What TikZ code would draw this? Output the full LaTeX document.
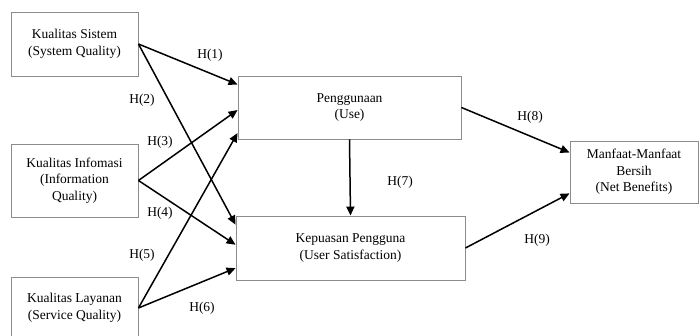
\documentclass[tikz,border=0pt]{standalone}
\usepackage{fontspec}
\setmainfont{Liberation Serif}
\usetikzlibrary{calc,arrows.meta}
\begin{document}
\begin{tikzpicture}[x=1pt, y=1pt]
  \tikzstyle{varbox}=[draw=black!45, line width=0.9pt, fill=white, inner sep=0pt,
    align=center, font=\fontsize{13.5}{16.5}\selectfont]
  \tikzstyle{hyp}=[-{Triangle[length=9pt,width=8pt]}, line width=1.5pt]
  \tikzstyle{hlabel}=[font=\fontsize{13.5}{16.5}\selectfont]
  \useasboundingbox (0, 0) rectangle (699, 336);
  \node[varbox, minimum width=127, minimum height=64] (sys) at (74.5, 292)
    {Kualitas Sistem\\(System Quality)};
  \node[varbox, minimum width=127, minimum height=73] (info) at (74.5, 155.5)
    {Kualitas Infomasi\\(Information\\Quality)};
  \node[varbox, minimum width=127, minimum height=62] (serv) at (74.5, 28)
    {Kualitas Layanan\\(Service Quality)};
  \node[varbox, minimum width=223, minimum height=63] (use) at (349.5, 228.5)
    {Penggunaan\\(Use)};
  \node[varbox, minimum width=229, minimum height=64] (sat) at (350.5, 88)
    {Kepuasan Pengguna\\(User Satisfaction)};
  \node[varbox, minimum width=128, minimum height=62] (net) at (634, 164)
    {Manfaat-Manfaat\\Bersih\\(Net Benefits)};
  \draw[hyp] (sys.east) -- ($(use.north west)!0.14!(use.south west)$);
  \draw[hyp] (sys.east) -- ($(sat.north west)!0.14!(sat.south west)$);
  \draw[hyp] (info.east) -- ($(use.north west)!0.54!(use.south west)$);
  \draw[hyp] (info.east) -- ($(sat.north west)!0.45!(sat.south west)$);
  \draw[hyp] (serv.east) -- ($(use.north west)!0.90!(use.south west)$);
  \draw[hyp] (serv.east) -- ($(sat.north west)!0.81!(sat.south west)$);
  \draw[hyp] (use.south) -- (sat.north);
  \draw[hyp] (use.east) -- ($(net.north west)!0.19!(net.south west)$);
  \draw[hyp] (sat.east) -- ($(net.north west)!0.84!(net.south west)$);
  \node[hlabel] (h1) at (210, 281) {H(1)};
  \node[hlabel] (h2) at (142, 236) {H(2)};
  \node[hlabel] (h3) at (160, 194) {H(3)};
  \node[hlabel] (h4) at (160, 123) {H(4)};
  \node[hlabel] (h5) at (142, 81) {H(5)};
  \node[hlabel] (h6) at (202, 28) {H(6)};
  \node[hlabel] (h7) at (400, 154) {H(7)};
  \node[hlabel] (h8) at (530, 219) {H(8)};
  \node[hlabel] (h9) at (537, 96) {H(9)};
\end{tikzpicture}
\end{document}
